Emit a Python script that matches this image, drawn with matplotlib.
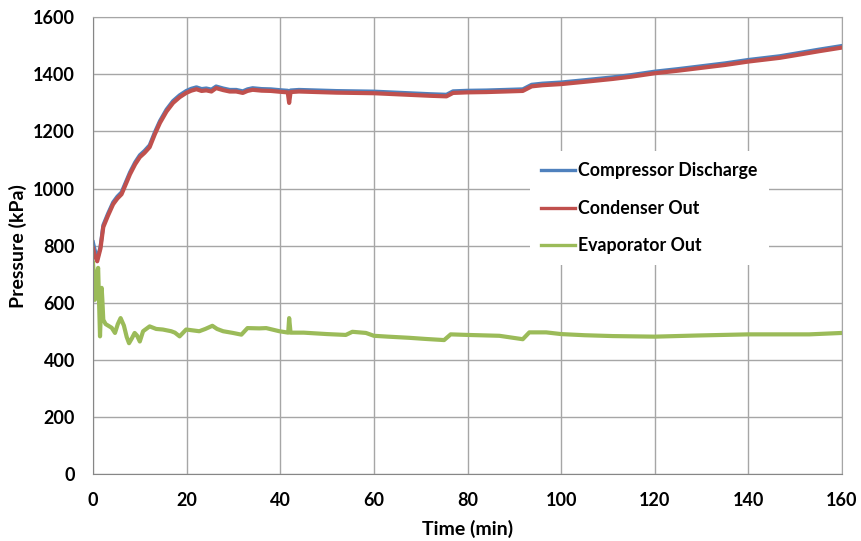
import numpy as np
from matplotlib import pyplot as plt

# time axis (min) and pressures (kPa)
t_hi = [0, 0.3, 0.9, 1.6, 2.2, 3.2, 4.3, 5.2, 6.1, 7.0, 7.9, 9.0, 10.0, 11.0,
        12.1, 13.2, 14.3, 15.7, 17.1, 18.5, 19.9, 21.0, 22.1, 23.2, 24.2, 25.3,
        26.3, 27.8, 29.2, 30.6, 32.0, 33.0, 34.1, 36.0, 38.0, 40.0, 41.6, 41.9,
        42.2, 44, 48, 52, 56, 60, 64, 68, 72, 75.5, 76.9, 80, 84, 88, 91.8,
        93.7, 96, 100, 105, 111, 115, 120, 125, 129, 135, 140, 146.7, 150, 155, 160]
condenser = [790, 770, 745, 790, 865, 905, 945, 965, 980, 1015, 1050, 1085, 1110, 1125,
             1145, 1190, 1230, 1270, 1300, 1320, 1335, 1343, 1348, 1342, 1344, 1340,
             1352, 1345, 1340, 1340, 1335, 1342, 1346, 1343, 1342, 1339, 1337, 1300,
             1338, 1340, 1338, 1336, 1335, 1334, 1331, 1328, 1325, 1323, 1335, 1337, 1338, 1340, 1342,
             1358, 1362, 1366, 1374, 1384, 1392, 1404, 1413, 1421, 1433, 1445, 1458, 1467, 1481, 1494]
discharge = [812, 790, 752, 797, 872, 912, 952, 972, 987, 1022, 1057, 1092, 1117, 1132,
             1152, 1197, 1237, 1277, 1307, 1327, 1342, 1350, 1355, 1349, 1351, 1347,
             1358, 1351, 1346, 1346, 1341, 1348, 1352, 1349, 1348, 1345, 1343, 1335,
             1344, 1346, 1344, 1342, 1341, 1340, 1337, 1334, 1331, 1329, 1341, 1343, 1344, 1346, 1348,
             1364, 1368, 1372, 1380, 1390, 1398, 1410, 1419, 1427, 1439, 1451, 1464, 1473, 1487, 1500]

t_lo = [0, 0.2, 0.4, 0.7, 1.1, 1.5, 1.85, 2.0, 2.2, 2.7, 3.3, 4.0, 4.7, 5.3, 5.9,
        6.6, 7.2, 7.7, 8.3, 8.9, 9.4, 10.0, 10.7, 12.1, 13.5, 14.9, 16.7, 17.5,
        18.5, 19.9, 21.3, 22.7, 24.0, 25.5, 26.5, 27.8, 29.9, 31.7, 33.0, 35.5,
        37.0, 39.8, 41.7, 41.9, 42.2, 45, 50, 54, 55.4, 58.3, 60, 63, 67.5, 71,
        75, 76.4, 80, 86.8, 91.8, 93.2, 96.8, 100, 105, 111, 120, 129, 140, 153, 160]
evaporator = [740, 690, 610, 690, 722, 482, 652, 610, 540, 525, 519, 512, 494, 525, 546,
              520, 480, 458, 475, 494, 485, 464, 500, 517, 508, 506, 500, 495,
              482, 506, 503, 500, 508, 519, 508, 500, 494, 488, 511, 510,
              511, 500, 495, 546, 495, 495, 490, 487, 498, 494, 484, 481, 477, 473,
              469, 489, 487, 484, 472, 496, 496, 490, 486, 483, 481, 485, 489, 489, 494]

labels = ['Compressor Discharge', 'Condenser Out', 'Evaporator Out']
colors = ['#4F81BD', '#C0504D', '#9BBB59']

plt.rcParams['font.family'] = ['Lato', 'DejaVu Sans']

fig = plt.figure(figsize=(8.61, 5.41), dpi=100)
ax = fig.add_axes([0.108, 0.124, 0.870, 0.844])

ax.plot(t_hi, discharge, color=colors[0], lw=2.8, label=labels[0])
ax.plot(t_hi, condenser, color=colors[1], lw=3.0, label=labels[1])
ax.plot(t_lo, evaporator, color=colors[2], lw=3.0, label=labels[2])

ax.set_xlim(0, 160)
ax.set_ylim(0, 1600)
ax.set_xticks(np.arange(0, 161, 20))
ax.set_yticks(np.arange(0, 1601, 200))
ax.grid(True, color='#a6a6a6', lw=1)
ax.set_axisbelow(True)
for s in ax.spines.values():
    s.set_color('#a6a6a6')
ax.spines['left'].set_color('#868686')
ax.spines['bottom'].set_color('#868686')
ax.tick_params(length=0, labelsize=13, pad=13)
for lab in ax.get_xticklabels() + ax.get_yticklabels():
    lab.set_fontweight('bold')

ax.set_xlabel('Time (min)', fontsize=14, fontweight='bold', labelpad=8)
ax.set_ylabel('Pressure (kPa)', fontsize=14, fontweight='bold', labelpad=4)

leg = ax.legend(loc='upper left', bbox_to_anchor=(0.5835, 0.707), borderaxespad=0,
                frameon=True, fancybox=False, framealpha=1, edgecolor='none',
                facecolor='white', prop={'size': 12.8, 'weight': 'bold'},
                handlelength=1.9, handletextpad=0.2, labelspacing=1.16, borderpad=0.62)
for line in leg.get_lines():
    line.set_linewidth(2.4)

fig.savefig('out.png', dpi=100)
